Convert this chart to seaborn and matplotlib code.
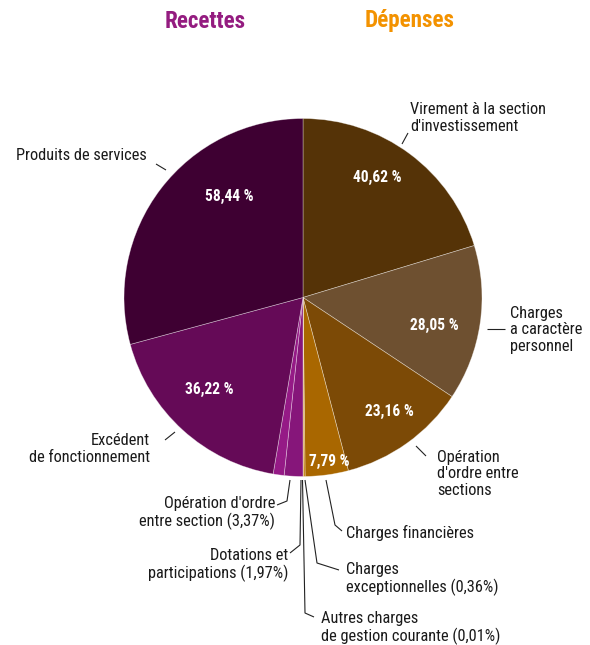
import matplotlib
matplotlib.use("Agg")
import matplotlib.pyplot as plt
from matplotlib import font_manager
import seaborn as sns

# ---- data ----
depenses_labels = ["Virement à la section\nd'investissement", "Charges\na caractère\npersonnel",
                   "Opération\nd'ordre entre\nsections", "Charges financières",
                   "Charges\nexceptionnelles (0,36%)", "Autres charges\nde gestion courante (0,01%)"]
depenses_values = [40.62, 28.05, 23.16, 7.79, 0.36, 0.01]
depenses_pct_text = ["40,62 %", "28,05 %", "23,16 %", "7,79 %", None, None]
depenses_colors = ["#553307", "#6e5030", "#7c4a06", "#a96700", "#c07a00", "#c07a00"]

recettes_labels = ["Opération d'ordre\nentre section (3,37%)", "Dotations et\nparticipations (1,97%)",
                   "Excédent\nde fonctionnement", "Produits de services"]
recettes_values = [3.37, 1.97, 36.22, 58.44]
recettes_pct_text = [None, None, "36,22 %", "58,44 %"]
recettes_colors = ["#86167a", "#951a86", "#650a57", "#3e0032"]

titles = ["Recettes", "Dépenses"]
title_colors = ["#941c80", "#f39200"]

# ---- style ----
sns.set_theme(style="white")
names = {f.name for f in font_manager.fontManager.ttflist}
cands = ["Liberation Sans Narrow", "Roboto Condensed", "DejaVu Sans Condensed", "Roboto"]
base_font = next((c for c in cands if c in names), "Liberation Sans")
plt.rcParams["font.family"] = [base_font, "DejaVu Sans"]
fs = 11.8
pfs = 11.2
ls = 1.1

W, H = 590, 645
fig = plt.figure(figsize=(W / 100, H / 100), dpi=100)
ax = fig.add_axes([0, 0, 1, 1])

def Y(py):
    return H - py

# each half of the disc is 180 degrees -> normalise each half separately
d_tot = sum(depenses_values)
r_tot = sum(recettes_values)
vals = [v / d_tot * 50 for v in depenses_values] + [v / r_tot * 50 for v in recettes_values]
cols = depenses_colors + recettes_colors

cx, cy, R = 303, Y(297.5), 179
ax.pie(vals, colors=cols, startangle=90, counterclock=False, center=(cx, cy), radius=R,
       wedgeprops=dict(edgecolor=(1, 1, 1, 0.45), linewidth=0.5), frame=True)
ax.set_xlim(0, W)
ax.set_ylim(0, H)
ax.set_aspect("equal")
ax.axis("off")

# titles
ax.text(205, Y(21), titles[0], color=title_colors[0], fontsize=16.7, fontweight="bold", ha="center", va="center")
ax.text(410, Y(21), titles[1], color=title_colors[1], fontsize=16.7, fontweight="bold", ha="center", va="center")

# percentage labels
pct_pos_d = [(377, 177), (434, 325), (389, 411), (329, 461)]
for t, (x, y) in zip(depenses_pct_text, pct_pos_d):
    ax.text(x, Y(y), t, color="white", fontsize=pfs, fontweight="bold", ha="center", va="center")
pct_pos_r = [(209, 389), (229, 196)]
for t, (x, y) in zip(recettes_pct_text[2:], pct_pos_r):
    ax.text(x, Y(y), t, color="white", fontsize=pfs, fontweight="bold", ha="center", va="center")

lc = "#222222"
def line(pts):
    ax.plot([p[0] for p in pts], [Y(p[1]) for p in pts], color=lc, lw=0.8, solid_capstyle="butt")

def label(x, y, s, ha):
    ax.text(x, Y(y), s, fontsize=fs, ha=ha, va="center", color="#1a1a1a", linespacing=ls)

# outside labels (dépenses)
label(410, 118, depenses_labels[0], "left")
line([(402, 144), (408, 133)])
label(510, 330, depenses_labels[1], "left")
line([(487, 329), (505, 329)])
label(437, 474, depenses_labels[2], "left")
line([(416, 446), (426, 456)])
label(346, 533, depenses_labels[3], "left")
line([(326, 480), (335, 525), (342, 531)])
label(346, 579, depenses_labels[4], "left")
line([(305, 480), (317, 563), (339, 570)])
label(321, 628, depenses_labels[5], "left")
line([(302.5, 480), (305, 613), (314, 617)])

# outside labels (recettes)
label(275, 513, recettes_labels[0], "right")
line([(290, 480), (287, 501), (277, 505)])
label(288, 565, recettes_labels[1], "right")
line([(301, 480), (300, 545), (290, 553)])
label(150, 449, recettes_labels[2], "right")
line([(165, 440), (175, 432)])
label(147, 155, recettes_labels[3], "right")
line([(156, 164), (166, 170)])

fig.savefig("out.png", dpi=100, facecolor="white")
